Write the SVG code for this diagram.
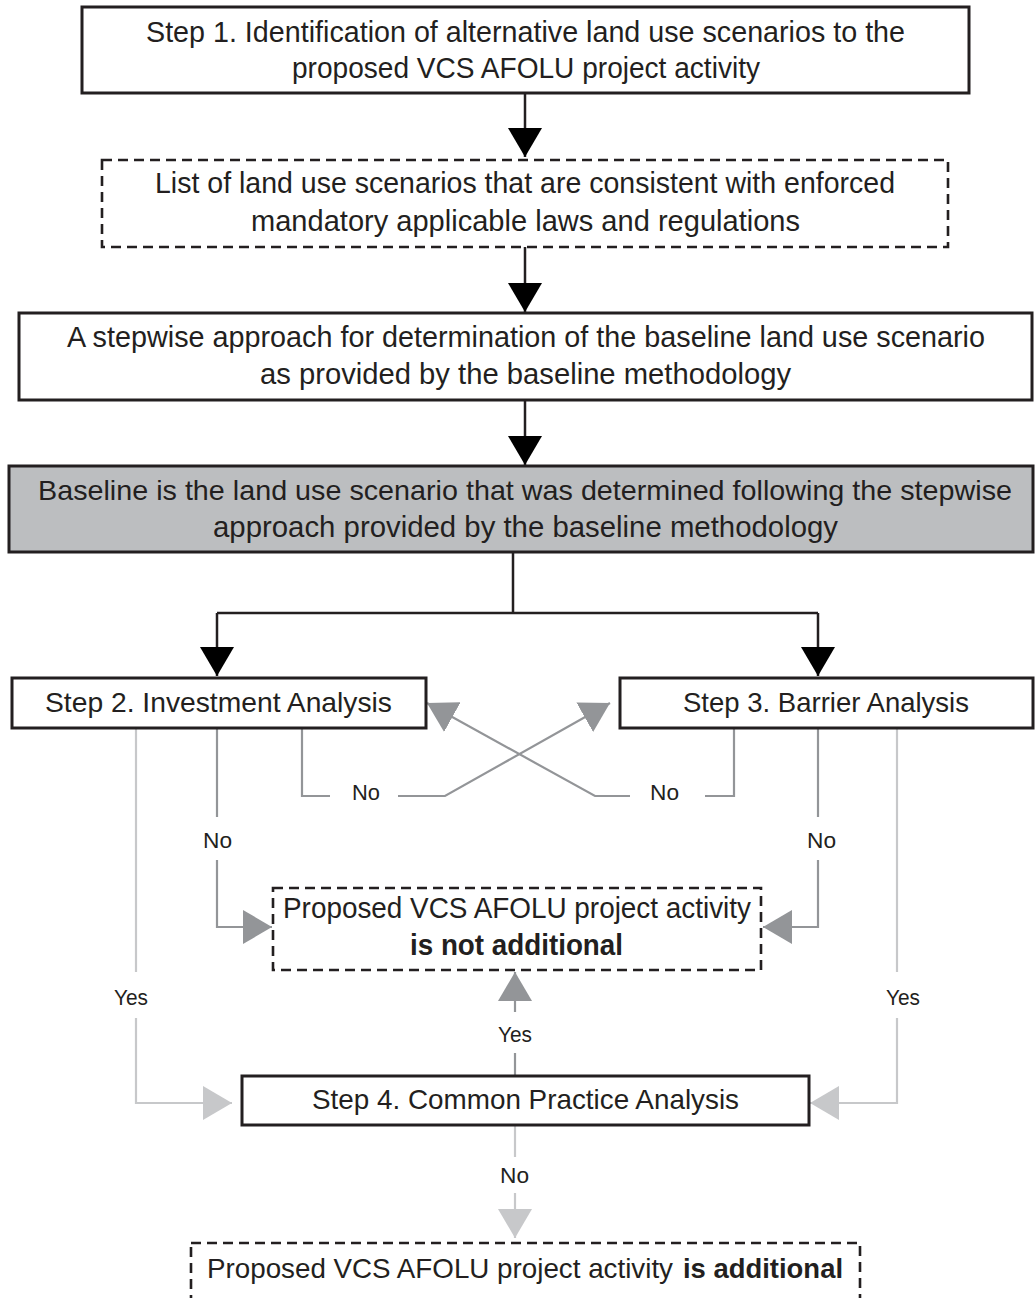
<svg xmlns="http://www.w3.org/2000/svg" width="1035" height="1298" viewBox="0 0 1035 1298">
<style>
text{font-family:"Liberation Sans","Open Sans",Arial,sans-serif;fill:#231f20}
.t{font-size:30px}
.g{font-size:28px}
.f{font-size:27.5px}
.s{font-size:28px}
.l{font-size:22px}
.b{font-weight:bold}
.box{fill:#fff;stroke:#231f20;stroke-width:3}
.dash{fill:#fff;stroke:#231f20;stroke-width:2.6;stroke-dasharray:10 6}
.grey{fill:#bcbec0;stroke:#231f20;stroke-width:3}
.k{fill:none;stroke:#231f20;stroke-width:2.5}
.m{fill:none;stroke:#939598;stroke-width:2.2}
.c{fill:none;stroke:#c7c8ca;stroke-width:2.2}
</style>
<defs>
<marker id="ak" markerUnits="userSpaceOnUse" viewBox="0 0 29 34" refX="29" refY="17" markerWidth="29" markerHeight="34" orient="auto"><path d="M0,0 L29,17 L0,34 z" fill="#000"/></marker>
<marker id="am" markerUnits="userSpaceOnUse" viewBox="0 0 29 34" refX="29" refY="17" markerWidth="29" markerHeight="34" orient="auto"><path d="M0,0 L29,17 L0,34 z" fill="#939598"/></marker>
<marker id="ac" markerUnits="userSpaceOnUse" viewBox="0 0 29 34" refX="29" refY="17" markerWidth="29" markerHeight="34" orient="auto"><path d="M0,0 L29,17 L0,34 z" fill="#c7c8ca"/></marker>
</defs>
<rect width="1035" height="1298" fill="#fff"/>
<g id="connectors">
<path class="k" d="M525,93 V157" marker-end="url(#ak)"/>
<path class="k" d="M525,247 V312" marker-end="url(#ak)"/>
<path class="k" d="M525,400 V465" marker-end="url(#ak)"/>
<path class="k" d="M513,552 V613 M217,613 H818"/>
<path class="k" d="M217,613 V676" marker-end="url(#ak)"/>
<path class="k" d="M818,613 V676" marker-end="url(#ak)"/>
<path class="m" d="M217,728 V817"/>
<path class="m" d="M217,860 V927 H272" marker-end="url(#am)"/>
<path class="m" d="M302,728 V796 H330"/>
<path class="m" d="M398,796 H445 L610,703" marker-end="url(#am)"/>
<path class="m" d="M734,728 V796 H705"/>
<path class="m" d="M630,796 H595 L427,703" marker-end="url(#am)"/>
<path class="m" d="M818,728 V817"/>
<path class="m" d="M818,860 V927 H763" marker-end="url(#am)"/>
<path class="m" d="M515,1053 V1076"/>
<path class="m" d="M515,1012 V972" marker-end="url(#am)"/>
<path class="c" d="M136,728 V972"/>
<path class="c" d="M136,1018 V1103 H232" marker-end="url(#ac)"/>
<path class="c" d="M897,728 V972"/>
<path class="c" d="M897,1018 V1103 H810" marker-end="url(#ac)"/>
<path class="c" d="M515,1125 V1157"/>
<path class="c" d="M515,1193 V1238" marker-end="url(#ac)"/>
<text class="l" x="352" y="800" textLength="28" lengthAdjust="spacingAndGlyphs">No</text>
<text class="l" x="650" y="800" textLength="29" lengthAdjust="spacingAndGlyphs">No</text>
<text class="l" x="203" y="848" textLength="29" lengthAdjust="spacingAndGlyphs">No</text>
<text class="l" x="807" y="848" textLength="29" lengthAdjust="spacingAndGlyphs">No</text>
<text class="l" x="114" y="1005" textLength="34" lengthAdjust="spacingAndGlyphs">Yes</text>
<text class="l" x="886" y="1005" textLength="34" lengthAdjust="spacingAndGlyphs">Yes</text>
<text class="l" x="498" y="1042" textLength="34" lengthAdjust="spacingAndGlyphs">Yes</text>
<text class="l" x="500" y="1183" textLength="29" lengthAdjust="spacingAndGlyphs">No</text>
</g>
<g id="step1">
<rect class="box" x="82" y="7" width="887" height="86"/>
<text class="t" x="146" y="42" textLength="759" lengthAdjust="spacingAndGlyphs">Step 1. Identification of alternative land use scenarios to the</text>
<text class="t" x="292" y="78" textLength="468" lengthAdjust="spacingAndGlyphs">proposed VCS AFOLU project activity</text>
</g>
<g id="list">
<rect class="dash" x="102" y="160" width="846" height="87"/>
<text class="t" x="155" y="193" textLength="740" lengthAdjust="spacingAndGlyphs">List of land use scenarios that are consistent with enforced</text>
<text class="t" x="251" y="231" textLength="549" lengthAdjust="spacingAndGlyphs">mandatory applicable laws and regulations</text>
</g>
<g id="stepwise">
<rect class="box" x="19" y="313" width="1013" height="87"/>
<text class="t" x="67" y="347" textLength="918" lengthAdjust="spacingAndGlyphs">A stepwise approach for determination of the baseline land use scenario</text>
<text class="t" x="260" y="384" textLength="531" lengthAdjust="spacingAndGlyphs">as provided by the baseline methodology</text>
</g>
<g id="baseline">
<rect class="grey" x="9" y="466" width="1024" height="86"/>
<text class="g" x="38" y="500" textLength="974" lengthAdjust="spacingAndGlyphs">Baseline is the land use scenario that was determined following the stepwise</text>
<text class="t" x="213" y="537" textLength="625" lengthAdjust="spacingAndGlyphs">approach provided by the baseline methodology</text>
</g>
<g id="step2">
<rect class="box" x="12" y="678" width="414" height="50"/>
<text class="s" x="45" y="712" textLength="347" lengthAdjust="spacingAndGlyphs">Step 2. Investment Analysis</text>
</g>
<g id="step3">
<rect class="box" x="620" y="678" width="413" height="50"/>
<text class="s" x="683" y="712" textLength="286" lengthAdjust="spacingAndGlyphs">Step 3. Barrier Analysis</text>
</g>
<g id="notadditional">
<rect class="dash" x="273" y="888" width="488" height="82"/>
<text class="t" x="283" y="918" textLength="468" lengthAdjust="spacingAndGlyphs">Proposed VCS AFOLU project activity</text>
<text class="t b" x="410" y="955" textLength="213" lengthAdjust="spacingAndGlyphs">is not additional</text>
</g>
<g id="step4">
<rect class="box" x="242" y="1076" width="567" height="49"/>
<text class="s" x="312" y="1109" textLength="427" lengthAdjust="spacingAndGlyphs">Step 4. Common Practice Analysis</text>
</g>
<g id="additional">
<rect class="dash" x="191" y="1243" width="669" height="90"/>
<text class="f" x="207" y="1278" textLength="466" lengthAdjust="spacingAndGlyphs">Proposed VCS AFOLU project activity</text>
<text class="f b" x="683" y="1278" textLength="160" lengthAdjust="spacingAndGlyphs">is additional</text>
</g>
</svg>
